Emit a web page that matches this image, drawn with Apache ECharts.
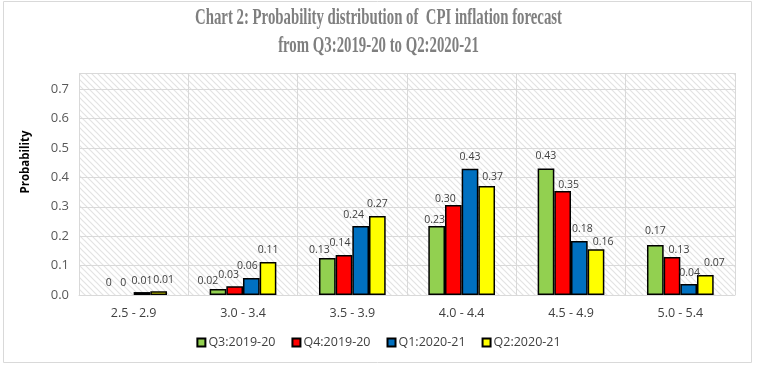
<!DOCTYPE html>
<html>
<head>
<meta charset="utf-8">
<script src="https://cdn.jsdelivr.net/npm/echarts@6/dist/echarts.min.js"></script>
<style>
html,body{margin:0;padding:0;background:#fff;}
#c{width:757px;height:369px;}
</style>
</head>
<body>
<div id="c"></div>
<script>
var categories = ['2.5 - 2.9', '3.0 - 3.4', '3.5 - 3.9', '4.0 - 4.4', '4.5 - 4.9', '5.0 - 5.4'];
var seriesNames = ['Q3:2019-20', 'Q4:2019-20', 'Q1:2020-21', 'Q2:2020-21'];
var q3_2019_20 = [0, 0.02, 0.126, 0.235, 0.43, 0.17];
var q4_2019_20 = [0, 0.03, 0.136, 0.306, 0.354, 0.129];
var q1_2020_21 = [0.01, 0.058, 0.235, 0.429, 0.184, 0.037];
var q2_2020_21 = [0.013, 0.112, 0.269, 0.371, 0.156, 0.068];
var q3_labels = ['0', '0.02', '0.13', '0.23', '0.43', '0.17'];
var q4_labels = ['0', '0.03', '0.14', '0.30', '0.35', '0.13'];
var q1_labels = ['0.01', '0.06', '0.24', '0.43', '0.18', '0.04'];
var q2_labels = ['0.01', '0.11', '0.27', '0.37', '0.16', '0.07'];
var yTicks = ['0.0', '0.1', '0.2', '0.3', '0.4', '0.5', '0.6', '0.7'];
var titleLines = ['Chart 2: Probability distribution of  CPI inflation forecast', 'from Q3:2019-20 to Q2:2020-21'];
var yAxisTitle = 'Probability';

// styling (not data): colours and label nudges mimicking the original label placement
var colors = ['#92d050', '#ff0000', '#0070c0', '#ffff00'];
var labelNudge = [
  [[0,0], [-10,3], [-8,4], [-2,6], [0,-1], [0,-2]],
  [[-2,0], [-6,0], [-4,0], [-8,5], [6,6], [7,4]],
  [[0,0], [-4,0], [-7,1], [0,0], [3,0], [1,0]],
  [[5,0], [0,-1], [0,0], [6,3], [7,4], [9,0]]
];

var hatch = document.createElement('canvas');
hatch.width = 6; hatch.height = 6;
(function(){
  var g = hatch.getContext('2d');
  g.fillStyle = '#ffffff'; g.fillRect(0,0,6,6);
  g.strokeStyle = '#e3e3e3'; g.lineWidth = 1.2;
  g.beginPath();
  g.moveTo(-1,-1); g.lineTo(7,7);
  g.moveTo(-4,2); g.lineTo(4,10);
  g.moveTo(2,-4); g.lineTo(10,4);
  g.stroke();
})();

var titleFont = 'bold 23px "Liberation Serif"';
var mctx = document.createElement('canvas').getContext('2d');
mctx.font = titleFont;
var titleScale = 367 / mctx.measureText(titleLines[0]).width;

var allData = [q3_2019_20, q4_2019_20, q1_2020_21, q2_2020_21];
var allLabels = [q3_labels, q4_labels, q1_labels, q2_labels];
var chart = echarts.init(document.getElementById('c'));
chart.setOption({
  animation: false,
  color: colors,
  graphic: [
    {type:'rect', shape:{x:3.5, y:1.5, width:748, height:361}, style:{fill:'none', stroke:'#d9d9d9', lineWidth:1}, z:-10},
    {type:'text', x:378.5, y:18, scaleX:titleScale, style:{text:titleLines[0], font:titleFont, fill:'#7f7f7f', textAlign:'center', textVerticalAlign:'middle'}},
    {type:'text', x:378.5, y:46, scaleX:titleScale, style:{text:titleLines[1], font:titleFont, fill:'#7f7f7f', textAlign:'center', textVerticalAlign:'middle'}},
    {type:'text', x:26, y:162, rotation:Math.PI/2, style:{text:yAxisTitle, font:'bold 11.5px "Open Sans"', fill:'#000', textAlign:'center', textVerticalAlign:'middle'}}
  ],
  legend: {
    bottom: 15, left: 'center',
    itemWidth: 8, itemHeight: 8, itemGap: 16,
    icon: 'rect',
    textStyle: {fontFamily:'"Open Sans"', fontSize:12.5, color:'#404040', padding:[0,0,0,-2]},
    data: seriesNames
  },
  grid: {left:79, right:22, top:73, bottom:74, show:true, backgroundColor:{image:hatch, repeat:'repeat'}, borderWidth:0},
  xAxis: {
    type:'category', data:categories,
    axisLine:{lineStyle:{color:'#d9d9d9'}},
    axisTick:{show:false},
    splitLine:{show:true, lineStyle:{color:'#d9d9d9'}},
    axisLabel:{fontFamily:'"Open Sans"', fontSize:12.5, color:'#404040', margin:12}
  },
  yAxis: {
    type:'value', min:0, max:0.755, interval:0.1,
    axisLine:{show:false}, axisTick:{show:false},
    splitLine:{lineStyle:{color:'#d9d9d9'}},
    axisLabel:{showMaxLabel:false, fontFamily:'"Open Sans"', fontSize:13, color:'#595959', margin:10,
      formatter:function(v){ var i = Math.round(v*10); return (Math.abs(v*10-i) < 1e-6 && yTicks[i]) ? yTicks[i] : ''; }}
  },
  series: seriesNames.map(function(n,i){
    return {
      name:n, type:'bar',
      data: allData[i].map(function(v, j){
        var item = {value:v, label:{offset:labelNudge[i][j]}};
        if (v === 0) item.itemStyle = {borderWidth:0};
        return item;
      }),
      barGap:'0%', barCategoryGap:'39%',
      itemStyle:{borderColor:'#000', borderWidth:1.5},
      label:{show:true, position:'top', distance:6, fontFamily:'"Open Sans"', fontSize:10.5, color:'#404040',
        formatter:function(p){ return allLabels[i][p.dataIndex]; }}
    };
  })
});
</script>
</body>
</html>
